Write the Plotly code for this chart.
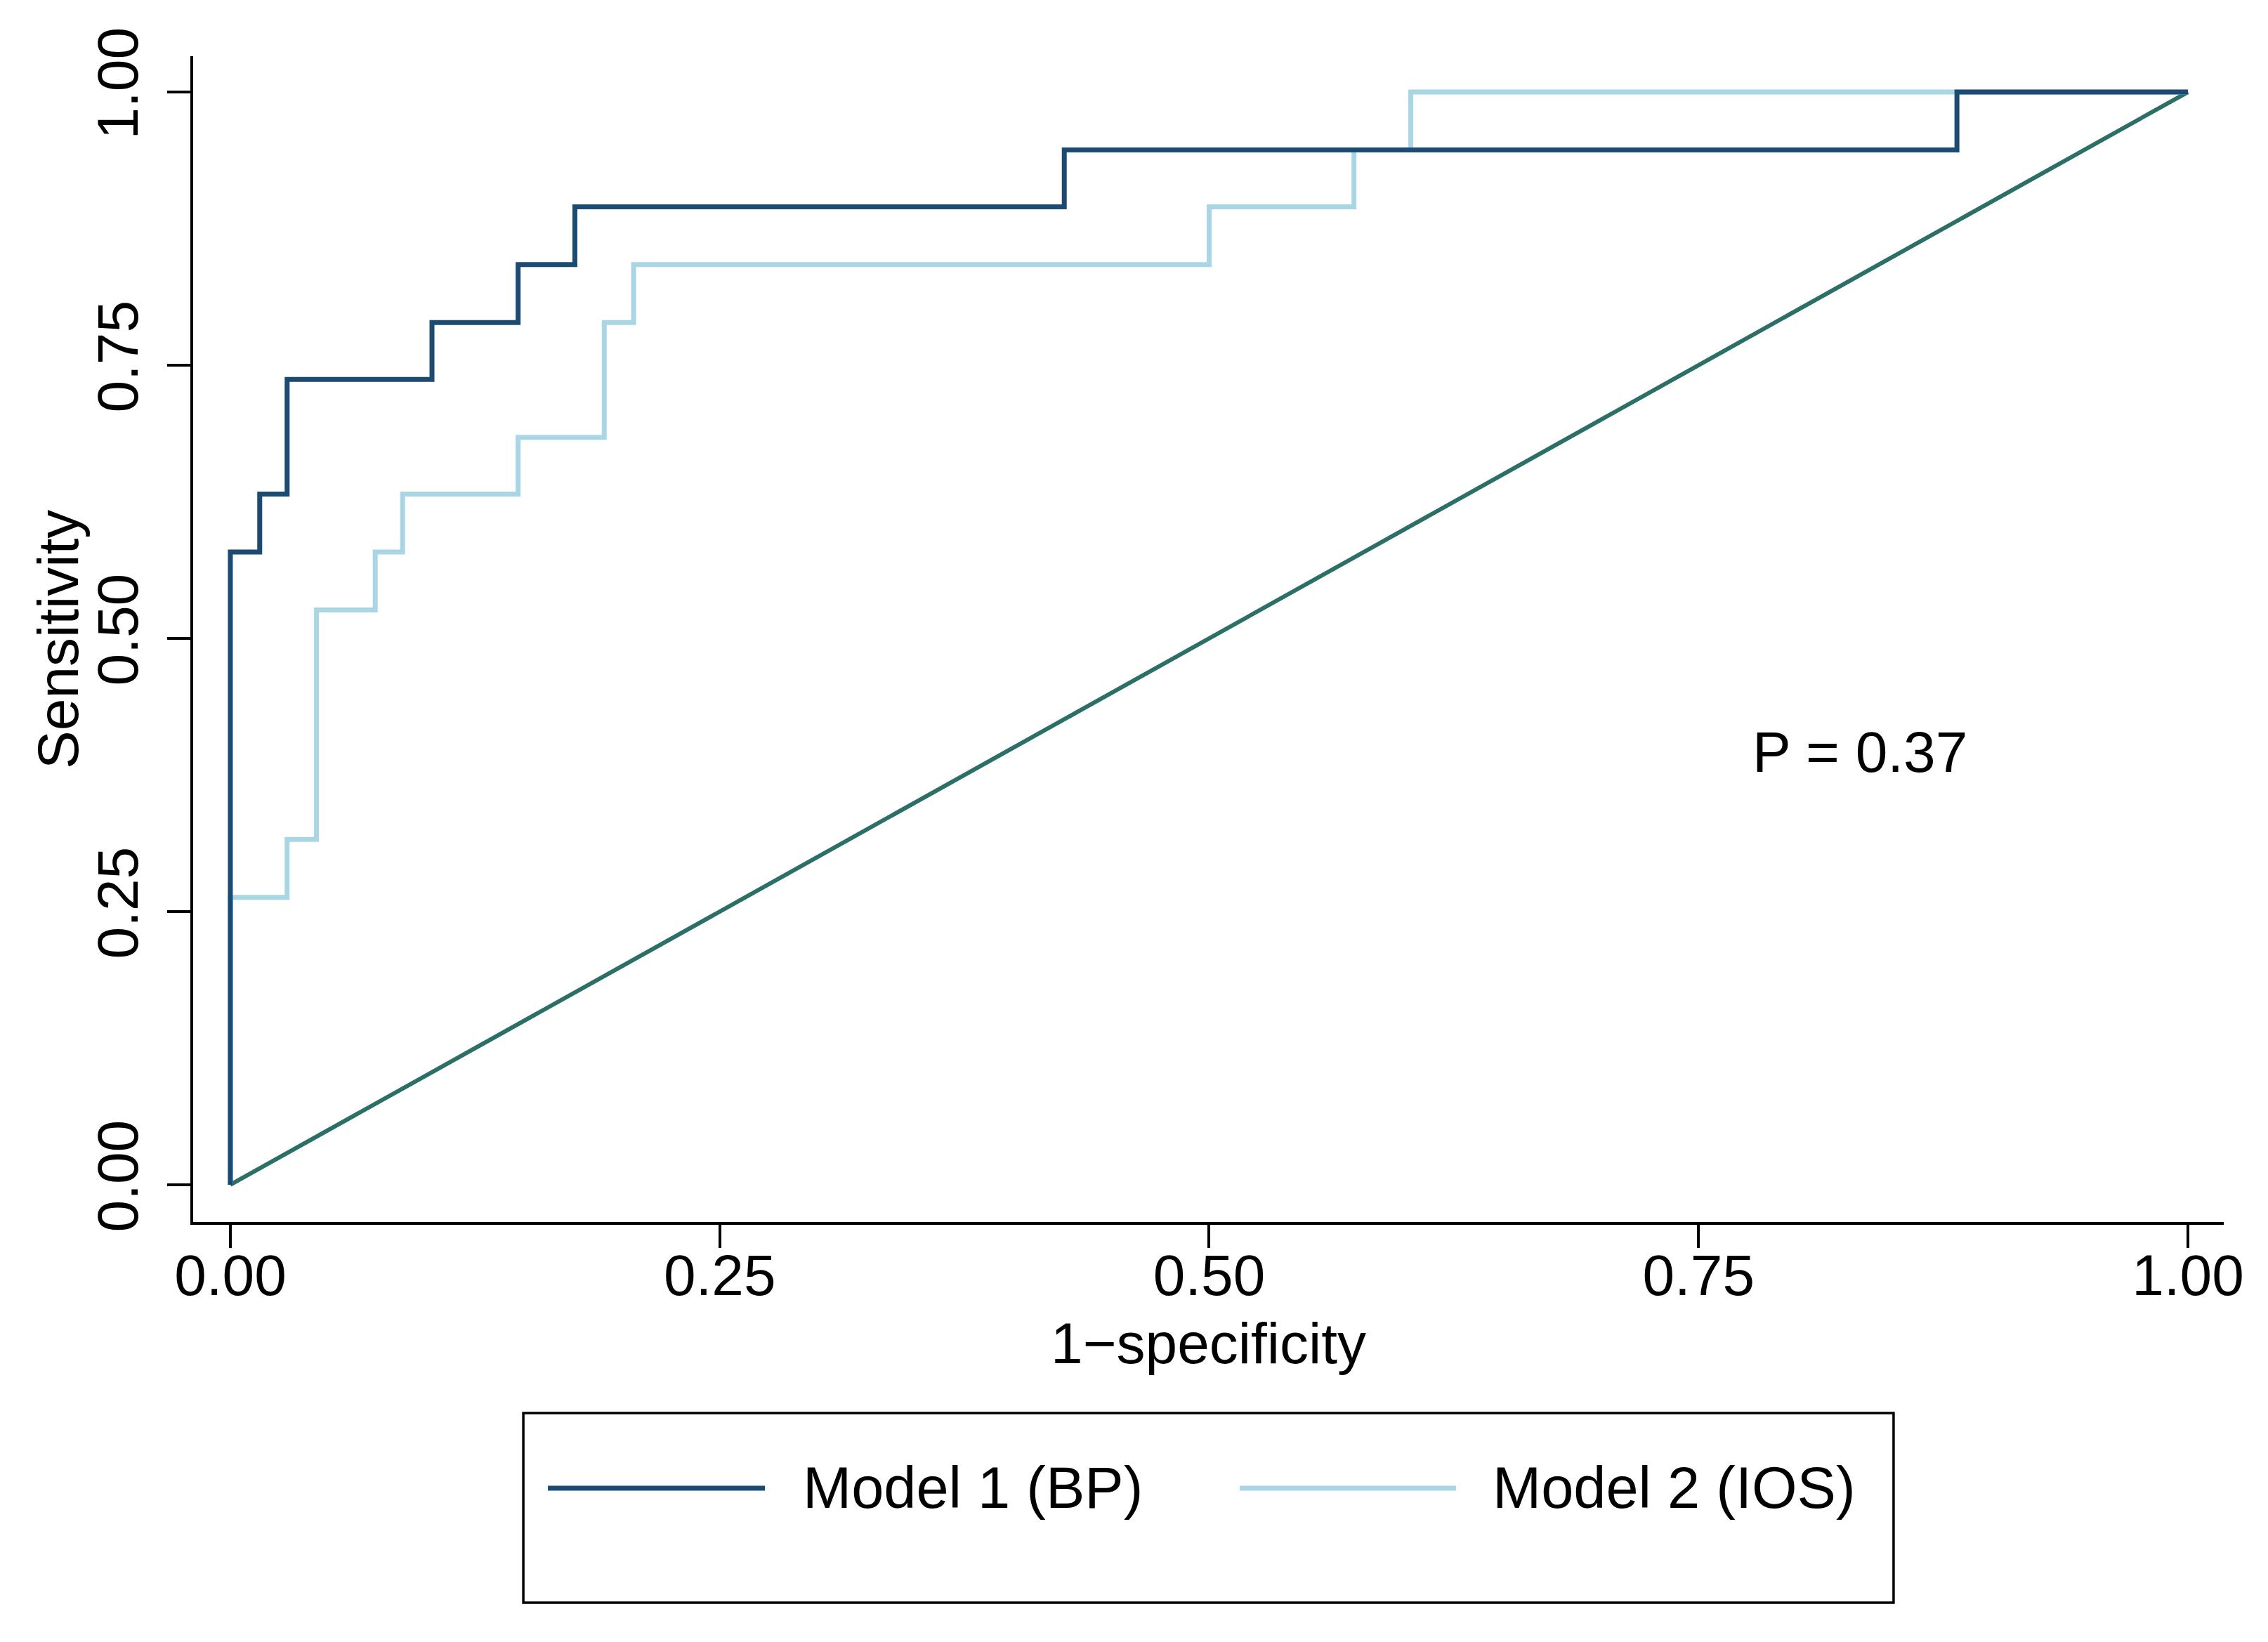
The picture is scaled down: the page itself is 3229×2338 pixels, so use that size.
import plotly.graph_objects as go

# ROC step data (1-specificity, sensitivity)
m1_x = [0.0, 0.0, 0.015, 0.029, 0.103, 0.147, 0.176, 0.426, 0.882, 1.0]
m1_y = [0.0, 0.579, 0.632, 0.737, 0.789, 0.842, 0.895, 0.947, 1.0, 1.0]

m2_x = [0.0, 0.0, 0.029, 0.044, 0.074, 0.088, 0.147, 0.191, 0.206, 0.5, 0.574, 0.603, 1.0]
m2_y = [0.0, 0.263, 0.316, 0.526, 0.579, 0.632, 0.684, 0.789, 0.842, 0.895, 0.947, 1.0, 1.0]

ref_x = [0.0, 1.0]
ref_y = [0.0, 1.0]

tick_vals = [0.0, 0.25, 0.5, 0.75, 1.0]
tick_text = ["0.00", "0.25", "0.50", "0.75", "1.00"]

series_names = ["Model 1 (BP)", "Model 2 (IOS)"]
x_title = "1\u2212specificity"
y_title = "Sensitivity"
p_text = "P = 0.37"

C_DARK = "#1b4a72"
C_LIGHT = "#a9d6e5"
C_REF = "#2b6f66"
FONT = "Liberation Sans, Arial, Helvetica, sans-serif"
FS = 82

fig = go.Figure()
fig.add_trace(go.Scatter(x=ref_x, y=ref_y, mode="lines",
                         line=dict(color=C_REF, width=6), showlegend=False))
fig.add_trace(go.Scatter(x=m2_x, y=m2_y, mode="lines", line_shape="hv",
                         line=dict(color=C_LIGHT, width=7), name=series_names[1],
                         showlegend=False))
fig.add_trace(go.Scatter(x=m1_x, y=m1_y, mode="lines", line_shape="hv",
                         line=dict(color=C_DARK, width=7), name=series_names[0],
                         showlegend=False))

axis_common = dict(
    showgrid=False, zeroline=False, showline=True, linecolor="black", linewidth=3.5,
    ticks="outside", ticklen=33, tickwidth=3.5, tickcolor="black",
    tickvals=tick_vals, ticktext=tick_text,
    tickfont=dict(family=FONT, size=FS, color="black"),
    mirror=False,
)

fig.update_xaxes(range=[-0.019, 1.0183],
                 title=dict(text=x_title,
                            font=dict(family=FONT, size=FS, color="black"), standoff=24),
                 ticklabelstandoff=-31,
                 **axis_common)
fig.update_yaxes(range=[-0.0341, 1.0328], tickangle=-90,
                 ticklabelstandoff=9,
                 **axis_common)

# Legend drawn as a box with sample lines and labels (paper coordinates)
shapes = [
    dict(type="rect", xref="paper", yref="paper", x0=0.1626, x1=0.8374, y0=-0.3265, y1=-0.1639,
         line=dict(color="black", width=3.5), fillcolor="white"),
    dict(type="line", xref="paper", yref="paper", x0=0.1747, x1=0.2816, y0=-0.2283, y1=-0.2283,
         line=dict(color=C_DARK, width=7)),
    dict(type="line", xref="paper", yref="paper", x0=0.5154, x1=0.6219, y0=-0.2283, y1=-0.2283,
         line=dict(color=C_LIGHT, width=7)),
]
annotations = [
    dict(text=series_names[0], xref="paper", yref="paper", x=0.2996, y=-0.2283,
         xanchor="left", yanchor="middle", showarrow=False,
         font=dict(family=FONT, size=83, color="black")),
    dict(text=series_names[1], xref="paper", yref="paper", x=0.6392, y=-0.2283,
         xanchor="left", yanchor="middle", showarrow=False,
         font=dict(family=FONT, size=83, color="black")),
    dict(text=p_text, xref="x", yref="y", x=0.777, y=0.396,
         xanchor="left", yanchor="middle", showarrow=False,
         font=dict(family=FONT, size=FS, color="black")),
    # y-axis title
    dict(text=y_title, xref="paper", yref="paper", x=-0.0668, y=0.5, textangle=-90,
         xanchor="center", yanchor="middle", showarrow=False,
         font=dict(family=FONT, size=FS, color="black")),
]

# figure is slightly smaller than the window to account for the page's body margin
fig.update_layout(
    width=3213, height=2322,
    margin=dict(l=267, r=55, t=72, b=590),
    paper_bgcolor="white", plot_bgcolor="white",
    shapes=shapes, annotations=annotations,
    showlegend=False,
)

fig.write_html("out.html")
